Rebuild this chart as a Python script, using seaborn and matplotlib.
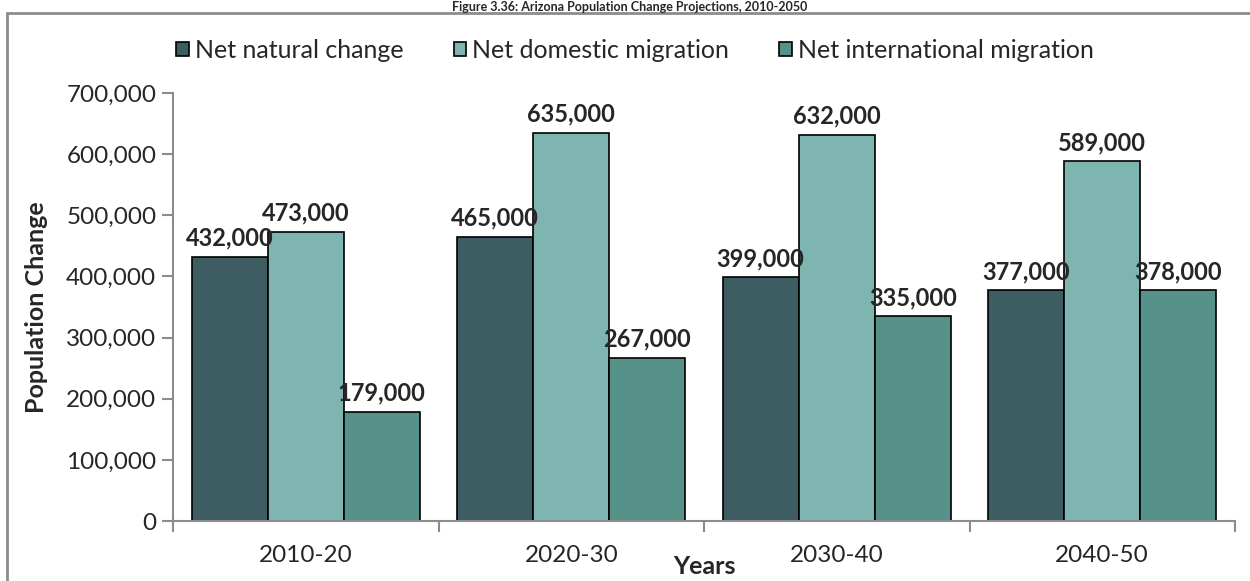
import numpy as np
import pandas as pd
import seaborn as sns
import matplotlib.pyplot as plt
from matplotlib.patches import Patch
from matplotlib.lines import Line2D
from matplotlib.ticker import FuncFormatter

# ==============================
# DATA
# ==============================
periods = ["2010-20", "2020-30", "2030-40", "2040-50"]
series = ["Net natural change", "Net domestic migration", "Net international migration"]
natural = [432000, 465000, 399000, 377000]
domestic = [473000, 635000, 632000, 589000]
international = [179000, 267000, 335000, 378000]
colors = ["#3d5d63", "#7fb5b0", "#56928a"]

df = pd.DataFrame({
    "Years": periods * 3,
    "Series": [s for s in series for _ in periods],
    "Value": natural + domestic + international,
})

# ==============================
# PLOT
# ==============================
sns.set_theme(style="white")
plt.rcParams["font.family"] = ["Lato", "DejaVu Sans"]

W, H = 1250, 581
fig = plt.figure(figsize=(W / 100, H / 100), dpi=100)
ax = fig.add_axes([173 / W, 1 - 521 / H, (1235 - 173) / W, (521 - 93) / H])

sns.barplot(data=df, x="Years", y="Value", hue="Series", hue_order=series,
            palette=colors, width=0.86, edgecolor="black", linewidth=1.2,
            saturation=1, legend=False, ax=ax)

ax.set_ylim(0, 700000)
ax.set_yticks(np.arange(0, 700001, 100000))
ax.yaxis.set_major_formatter(FuncFormatter(lambda v, p: f"{int(v):,}"))
ax.set_xlim(-0.5, len(periods) - 0.5)

# category labels centred, tick marks on the boundaries
ax.set_xticks(np.arange(-0.5, len(periods)), minor=False)
ax.set_xticklabels([])
ax.set_xticks(np.arange(len(periods)), minor=True)
ax.set_xticklabels(periods, minor=True)
ax.tick_params(axis="x", which="minor", length=0, pad=17, labelsize=17.5)
ax.tick_params(axis="x", which="major", length=8, color="#8c8c8c", width=1.5, direction="out")
ax.tick_params(axis="y", length=8, color="#8c8c8c", width=1.5, direction="out", labelsize=17.5, pad=4)
ax.tick_params(axis="both", bottom=True, left=True)

for side in ["top", "right"]:
    ax.spines[side].set_visible(False)
for side in ["left", "bottom"]:
    ax.spines[side].set_color("#8c8c8c")
    ax.spines[side].set_linewidth(1.5)

ax.set_ylabel("Population Change", fontsize=18, fontweight="bold")
ax.yaxis.set_label_coords((36 - 173) / (1235 - 173), 0.5)
ax.set_xlabel("Years", fontsize=18, fontweight="bold")
ax.xaxis.set_label_coords(0.5, -(566 - 521) / (521 - 93))
ax.xaxis.label.set_va("center")
ax.yaxis.label.set_va("center")

# data labels
for cont in ax.containers:
    ax.bar_label(cont, labels=[f"{int(b.get_height()):,}" for b in cont],
                 fontsize=17, fontweight="bold", padding=5)

# legend
handles = [Patch(facecolor=c, edgecolor="black", linewidth=1.2) for c in colors]
fig.legend(handles, series, loc="center", bbox_to_anchor=(635 / W, 1 - 50 / H),
           ncol=3, frameon=False, fontsize=18, handlelength=0.5, handleheight=0.5,
           handletextpad=0.25, columnspacing=2.0)

# title and outer frame
fig.text(630 / W, 1 - 1 / H, "Figure 3.36: Arizona Population Change Projections, 2010-2050",
         ha="center", va="top", fontsize=9, fontweight="bold")
fig.add_artist(Line2D([7 / W, 1], [1 - 13 / H] * 2, color="#8c8c8c", lw=2, transform=fig.transFigure))
fig.add_artist(Line2D([7 / W] * 2, [0, 1 - 13 / H], color="#8c8c8c", lw=2, transform=fig.transFigure))

fig.savefig("out.png", dpi=100)
